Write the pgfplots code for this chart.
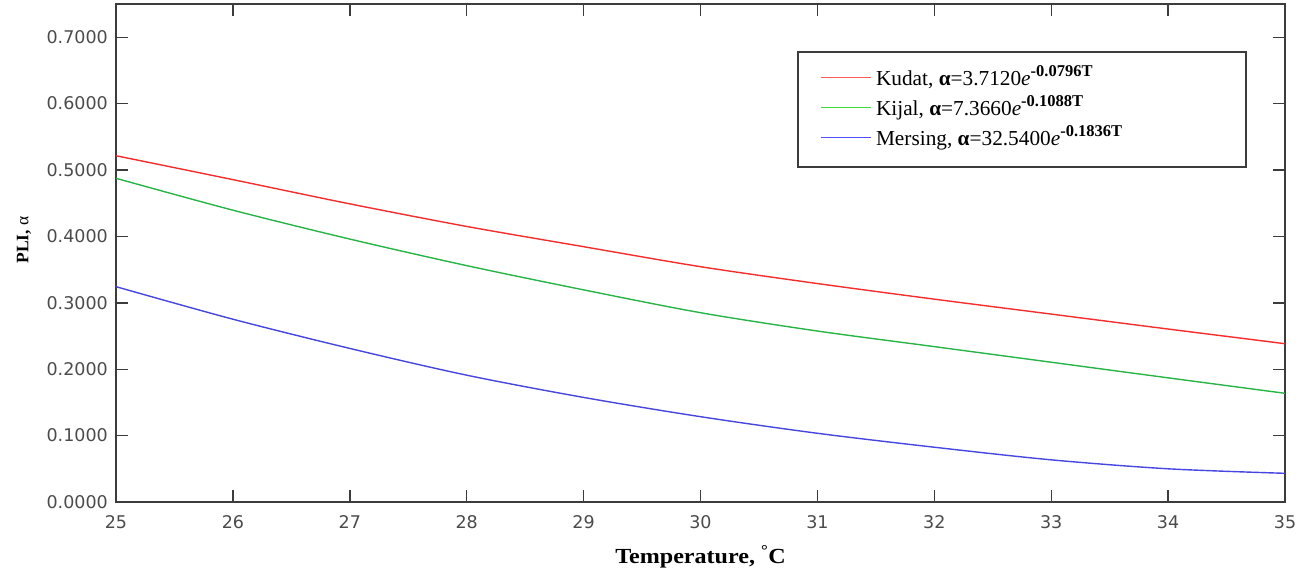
\documentclass[border=0pt]{standalone}
\usepackage{fontspec}
\setmainfont{Liberation Serif}
\newfontfamily\labelfont[FakeStretch=1.12]{Liberation Serif}
\newfontfamily\legfont{Liberation Serif}
\newfontfamily\tickfont{DejaVu Sans}
\usepackage{pgfplots}
\pgfplotsset{compat=1.18}
\definecolor{cred}{RGB}{245,45,45}
\definecolor{cgreen}{RGB}{40,180,70}
\definecolor{cblue}{RGB}{70,70,225}
\definecolor{lred}{RGB}{255,90,90}
\definecolor{lgreen}{RGB}{60,220,60}
\definecolor{lblue}{RGB}{80,80,255}
\definecolor{axgray}{RGB}{60,60,60}
\definecolor{tkgray}{RGB}{75,75,75}
\newcommand{\sups}[1]{\raisebox{9pt}{\fontsize{16.5}{18}\selectfont\textbf{#1}}}
\newcommand{\lent}[1]{\makebox[347pt][l]{#1}}
\begin{document}
\begin{tikzpicture}
\begin{axis}[
  at={(0,0)}, anchor=south west,
  scale only axis, width=1169pt, height=498pt,
  xmin=25, xmax=35, ymin=0, ymax=0.75,
  xtick={25,26,...,35},
  ytick={0,0.1,0.2,0.3,0.4,0.5,0.6,0.7},
  tick align=inside,
  major tick length=12pt,
  tick style={line width=1.4pt, color=axgray},
  axis line style={line width=1.6pt, color=axgray},
  /pgf/number format/assume math mode=true,
  yticklabel style={/pgf/number format/fixed, /pgf/number format/fixed zerofill, /pgf/number format/precision=4},
  xticklabel style={font=\fontsize{17.5}{20}\tickfont, text=tkgray, anchor=north, inner sep=0pt, yshift=-13pt},
  yticklabel style={font=\fontsize{17.5}{20}\tickfont, text=tkgray, anchor=east, inner sep=0pt, xshift=-8pt},
  xlabel={\textbf{Temperature, \textsuperscript{°}C}},
  xlabel style={font=\fontsize{21.5}{24}\labelfont, at={(axis description cs:0.5,0)}, anchor=base, yshift=-61pt, inner sep=0pt},
  ylabel={\textbf{PLI,} α},
  ylabel style={font=\fontsize{17.5}{20}\legfont, at={(axis description cs:-0.0787,0.526)}, anchor=center, inner sep=0pt},
  legend cell align=left,
  legend style={at={(0.5826,0.9056)}, anchor=north west, draw=axgray, line width=1.5pt, fill=white,
    font=\fontsize{21.3}{24}\legfont, inner xsep=22pt, inner ysep=14pt, row sep=3pt, column sep=4pt,
    nodes={inner xsep=1pt, inner ysep=0pt, text height=20pt, text depth=7pt}},
]
\addplot[cred, line width=1.4pt, smooth,
  legend image code/.code={\path (0pt,0pt); \draw[lred, line width=1.1pt] (0pt,2pt) -- (50pt,2pt);}] coordinates {
(25,0.5215)(26,0.4855)(27,0.449)(28,0.415)(29,0.3845)(30,0.3544)(31,0.329)(32,0.3055)(33,0.283)(34,0.2605)(35,0.2384)};
\addlegendentry{\lent{Kudat, \textbf{α}=3.7120\textit{e}\sups{-0.0796T}}}
\addplot[cgreen, line width=1.4pt, smooth,
  legend image code/.code={\path (0pt,0pt); \draw[lgreen, line width=1.1pt] (0pt,2pt) -- (50pt,2pt);}] coordinates {
(25,0.4875)(26,0.4395)(27,0.396)(28,0.356)(29,0.3195)(30,0.2851)(31,0.2575)(32,0.234)(33,0.2105)(34,0.187)(35,0.1637)};
\addlegendentry{\lent{Kijal, \textbf{α}=7.3660\textit{e}\sups{-0.1088T}}}
\addplot[cblue, line width=1.4pt, smooth,
  legend image code/.code={\path (0pt,0pt); \draw[lblue, line width=1.1pt] (0pt,2pt) -- (50pt,2pt);}] coordinates {
(25,0.3243)(26,0.2753)(27,0.2313)(28,0.191)(29,0.1575)(30,0.1285)(31,0.1035)(32,0.0825)(33,0.0635)(34,0.0500)(35,0.0432)};
\addlegendentry{\lent{Mersing, \textbf{α}=32.5400\textit{e}\sups{-0.1836T}}}
\end{axis}
\pgfresetboundingbox
\path (-116pt,-69pt) rectangle (1195pt,502pt);
\end{tikzpicture}
\end{document}
